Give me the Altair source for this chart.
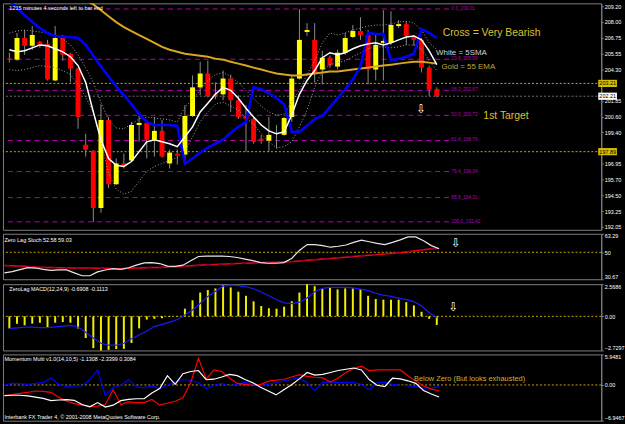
import json
import pandas as pd
import altair as alt

# ---------------- data ----------------
candle_index = list(range(57))
opens = [205.14, 205.06, 206.75, 206.14, 206.45, 206.29, 203.44, 206.91, 205.52, 204.37,
         198.43, 197.97, 193.50, 200.36, 195.35, 196.97, 197.20, 199.97, 200.13, 198.82,
         199.51, 196.97, 197.74, 197.66, 200.67, 202.90, 203.98, 202.36, 202.36, 203.59,
         201.90, 200.67, 200.44, 198.90, 198.74, 199.28, 199.20, 200.59, 203.59, 207.22,
         206.60, 204.29, 205.21, 204.52, 205.60, 206.83, 207.29, 206.98, 204.29, 206.37,
         206.37, 207.68, 207.83, 206.91, 206.60, 204.44, 202.75]
highs = [205.60, 207.14, 207.37, 207.68, 206.52, 206.60, 207.68, 206.98, 205.60, 204.44,
         199.28, 198.00, 201.59, 200.59, 197.36, 197.74, 200.21, 200.74, 200.36, 200.59,
         200.36, 198.05, 198.05, 201.51, 203.83, 204.90, 204.98, 203.29, 204.21, 203.90,
         202.29, 201.51, 200.59, 199.20, 200.59, 199.97, 200.59, 203.90, 209.01, 207.91,
         207.91, 205.75, 205.37, 205.83, 207.14, 207.76, 208.37, 207.37, 206.98, 208.91,
         208.83, 208.14, 208.06, 206.98, 206.75, 204.60, 202.90]
lows = [204.83, 204.98, 205.44, 205.83, 205.98, 203.44, 203.38, 204.98, 203.29, 199.67,
        197.51, 192.42, 193.12, 195.04, 195.30, 196.58, 197.12, 198.66, 197.36, 197.51,
        197.43, 196.58, 196.89, 197.20, 200.59, 202.29, 202.13, 201.98, 201.90, 200.98,
        200.44, 197.89, 198.51, 198.51, 197.89, 198.13, 199.15, 200.21, 203.52, 206.91,
        203.29, 203.13, 204.44, 204.29, 205.44, 206.75, 206.60, 203.13, 203.44, 203.44,
        206.21, 207.52, 206.21, 206.14, 204.06, 202.21, 202.13]
closes = [205.06, 206.75, 206.14, 206.98, 206.21, 203.52, 206.75, 205.44, 204.37, 200.59,
          198.05, 193.50, 200.36, 195.35, 196.97, 196.74, 199.97, 200.13, 198.82, 199.51,
          197.51, 197.82, 197.59, 200.67, 202.90, 203.98, 202.21, 202.21, 203.59, 201.90,
          200.59, 200.44, 198.66, 198.74, 199.20, 199.32, 200.51, 203.59, 206.60, 207.37,
          204.06, 205.21, 204.60, 205.60, 206.75, 207.29, 206.98, 204.29, 206.21, 206.52,
          207.76, 207.83, 206.91, 206.60, 204.44, 202.75, 202.21]
blue_ma = [209.68, 209.06, 208.53, 207.99, 207.52, 207.14, 206.91, 206.83, 206.83, 206.75,
           206.21, 205.37, 204.52, 203.75, 202.98, 202.29, 201.59, 200.82, 200.21, 199.97,
           199.97, 199.97, 199.90, 196.97, 197.36, 197.82, 198.20, 198.51, 198.82, 199.36,
           199.82, 200.21, 202.90, 202.75, 202.44, 202.05, 201.59, 199.43, 199.43, 199.90,
           200.44, 200.67, 201.36, 202.05, 202.75, 203.52, 204.52, 207.14, 207.06, 207.06,
           204.98, 205.14, 205.29, 205.52, 207.45, 207.14, 206.75]
gold_ema = [None] * 10 + [
           209.68, 209.37, 208.91, 208.45, 207.99, 207.60, 207.29, 206.98, 206.68, 206.37,
           206.06, 205.83, 205.68, 205.52, 205.44, 205.37, 205.29, 205.14, 205.06, 204.90,
           204.75, 204.60, 204.44, 204.29, 204.13, 203.98, 203.90, 203.83, 203.83, 203.90,
           203.98, 204.06, 204.13, 204.13, 204.21, 204.29, 204.37, 204.44, 204.52, 204.60,
           204.67, 204.75, 204.83, 204.90, 204.90, 204.83, 204.75]
white_sma = [205.83, 205.67, 205.75, 205.98, 206.21, 206.14, 205.91, 205.67, 205.29, 204.60,
             203.29, 200.98, 198.82, 197.36, 196.82, 196.74, 197.12, 197.89, 198.66, 198.82,
             198.66, 198.51, 198.28, 199.05, 199.82, 200.98, 201.67, 202.36, 202.90, 202.67,
             202.05, 201.28, 200.59, 199.97, 199.51, 199.28, 199.43, 200.74, 202.36, 203.44,
             204.21, 205.21, 205.60, 205.44, 205.60, 205.91, 206.14, 206.29, 206.37, 206.21,
             206.37, 206.60, 206.83, 206.91, 206.60, 205.75, 204.67]
env_upper = [207.14, 207.29, 207.37, 207.29, 207.22, 207.14, 206.98, 206.68, 206.21, 205.44,
             204.44, 203.29, 201.75, 200.36, 199.74, 199.67, 200.05, 200.44, 200.59, 200.51,
             200.44, 200.36, 200.21, 201.36, 201.98, 202.67, 203.44, 203.90, 204.06, 203.75,
             203.29, 202.67, 202.05, 201.44, 200.98, 200.74, 200.82, 201.75, 202.67, 203.90,
             204.98, 206.37, 207.14, 206.98, 207.14, 207.37, 207.52, 207.68, 207.76, 207.76,
             207.83, 207.99, 208.06, 207.91, 207.37, 206.37, 205.83]
env_lower = [204.29, 204.21, 204.29, 204.44, 204.60, 204.52, 204.44, 204.21, 203.90, 203.13,
             202.13, 200.98, 198.66, 196.20, 194.97, 194.58, 194.81, 195.58, 196.35, 196.74,
             196.97, 197.20, 197.43, 197.89, 199.05, 200.21, 200.98, 201.59, 201.75, 201.44,
             201.13, 200.51, 200.05, 199.28, 198.66, 198.20, 198.28, 198.66, 199.82, 201.13,
             202.90, 204.21, 204.67, 204.83, 204.98, 205.29, 205.60, 205.91, 206.06, 206.06,
             205.98, 206.06, 206.21, 206.21, 205.91, 204.98, 204.21]
stoch_main = [35.27, 36.19, 37.56, 38.94, 38.71, 37.79, 37.10, 37.33, 37.33, 35.27,
              33.20, 33.20, 35.96, 37.33, 38.25, 37.79, 38.94, 40.78, 42.39, 42.62,
              41.93, 40.09, 39.86, 40.78, 43.99, 46.98, 47.21, 47.21, 47.21, 46.98,
              46.29, 45.14, 43.99, 42.62, 42.16, 42.16, 42.62, 45.60, 51.35, 55.48,
              55.48, 54.79, 53.64, 54.33, 55.25, 57.09, 58.70, 57.55, 56.40, 55.48,
              57.09, 58.93, 60.99, 60.99, 58.24, 54.79, 52.58]
stoch_signal = [40.55, 40.32, 40.09, 39.86, 39.40, 39.17, 39.17, 38.94, 38.94, 38.71,
                38.71, 38.71, 38.48, 38.48, 38.25, 38.25, 38.48, 38.71, 38.94, 39.17,
                39.17, 39.40, 39.63, 39.86, 40.32, 40.78, 41.01, 41.24, 41.47, 41.70,
                41.93, 42.16, 42.39, 42.62, 42.62, 42.85, 43.08, 43.31, 43.77, 44.23,
                44.69, 45.14, 45.60, 46.06, 46.52, 46.98, 47.44, 47.90, 48.36, 48.82,
                49.28, 49.74, 50.43, 51.12, 51.81, 52.50, 52.95]
macd_hist = [-0.97, -0.59, -0.72, -0.59, -0.51, -0.90, -0.51, -0.46, -0.51, -0.97,
             -1.74, -2.55, -2.7297, -2.68, -2.62, -2.60, -2.13, -0.97, -0.26, -0.20,
             -0.15, -0.05, -0.03, 0.61, 1.28, 1.90, 2.10, 2.23, 2.49, 2.31,
             1.97, 1.64, 1.20, 0.82, 0.64, 0.61, 0.77, 1.20, 1.90, 2.5686,
             2.41, 2.23, 2.31, 2.15, 2.23, 2.23, 2.18, 1.64, 1.38, 1.33,
             1.33, 1.33, 1.13, 0.87, 0.36, -0.20, -0.6908]
macd_signal = [-0.97, -0.92, -0.87, -0.87, -0.90, -0.90, -0.85, -0.79, -0.72, -0.85,
               -1.28, -1.74, -2.15, -2.31, -2.31, -2.15, -1.79, -1.49, -1.18, -0.82,
               -0.64, -0.46, -0.26, 0.10, 0.51, 1.02, 1.59, 2.00, 2.41, 2.49,
               2.46, 2.36, 2.20, 1.95, 1.64, 1.33, 1.08, 1.02, 1.13, 1.46,
               1.97, 2.23, 2.31, 2.31, 2.31, 2.28, 2.18, 2.05, 1.84, 1.69,
               1.59, 1.46, 1.33, 1.18, 0.82, 0.31, -0.1113]
mom_blue = [0.00, 0.31, 0.25, 0.12, 0.31, 0.44, 1.37, 0.12, -0.31, -0.19,
            -0.19, 1.06, 2.93, -2.06, -0.50, -0.06, 1.06, -0.37, -0.50, -0.19,
            -0.69, -0.06, 0.56, 1.06, 0.87, 0.44, -0.69, -0.06, 0.31, -0.19,
            0.12, 0.56, 0.12, -0.19, 0.12, 0.44, 0.81, 1.06, 1.37, 0.44,
            -1.12, 0.56, 0.44, 0.44, 0.44, 0.44, 0.12, -0.94, 0.44, 0.56,
            0.12, -0.06, -0.19, -0.31, -0.62, -0.56, -0.3084]
mom_red = [-2.06, -1.87, -1.62, -1.43, -1.18, -1.25, -1.43, -2.37, -3.18, -3.62,
           -3.93, -4.18, -4.11, -3.80, -0.94, -3.80, -3.30, -3.43, -3.43, -2.81,
           -3.93, -3.55, -3.18, -2.49, 0.44, 5.20, 1.18, 2.93, 2.62, 1.37,
           0.31, 0.12, -0.06, 0.12, 0.75, 0.94, 1.06, 1.56, 2.00, 1.68,
           1.50, 1.37, 0.56, 1.37, 2.43, 3.24, 3.68, 2.81, 2.93, 2.93,
           2.93, 2.93, 1.81, 0.75, -0.19, -0.81, -1.1308]
mom_white = [-2.06, -2.00, -2.00, -2.12, -2.37, -2.62, -3.06, -2.93, -2.87, -2.99,
             -3.80, -4.24, -3.43, -4.30, -3.93, -3.06, -2.81, -2.68, -2.68, -1.56,
             -0.69, 1.81, 0.12, 2.18, 2.62, 2.81, 1.06, 1.12, 1.56, 2.06,
             1.81, 1.06, 0.44, -0.44, -1.18, -1.93, -0.94, 0.06, 1.18, 2.43,
             1.93, 2.06, 2.43, 2.81, 3.06, 3.30, 2.93, 1.06, -0.06, -0.31,
             1.31, 1.18, 0.81, 0.31, -1.06, -1.75, -2.3399]

fib_names = ["0.0", "23.6", "38.2", "50.0", "61.8", "76.4", "88.6", "100.0"]
fib_prices = [209.01, 205.09, 202.67, 200.72, 198.76, 196.34, 194.31, 192.42]
level_prices = [203.21, 197.89]
bid_price = [202.21]
price_ticks = [209.20, 208.00, 206.75, 205.55, 204.30, 201.85, 200.60,
               199.40, 196.95, 195.70, 194.50, 193.25, 192.05]
stoch_ticks = [63.29, 50, 30.67]
macd_ticks = [2.5686, 0, -2.7297]
mom_ticks = [5.9481, 0, -6.9467]
date_ticks = list(range(0, 57, 4))
date_labels = ["4 Mar 2008", "9 Mar 2008", "13 Mar 2008", "18 Mar 2008", "24 Mar 2008",
               "28 Mar 2008", "2 Apr 2008", "7 Apr 2008", "11 Apr 2008", "16 Apr 2008",
               "21 Apr 2008", "25 Apr 2008", "30 Apr 2008", "5 May 2008", "9 May 2008"]

# ---------------- styling ----------------
BG = "#000000"
GREY = "#808080"
MAG = "#B400B4"
DOTGOLD = "#C8A800"
NOTEGOLD = "#DCC032"
FONT = "Liberation Sans"
W = 605

xs = alt.Scale(domain=[-0.19, 76.9], nice=False, zero=False)


def X(field, axis=None):
    return alt.X(field, type="quantitative", scale=xs, axis=axis, title=None)


def make_axis(values, fmt=None, expr=None, flush=False):
    kw = dict(orient="right", values=values, title=None, grid=False,
              labelFontSize=5.5, labelColor="#FFFFFF", labelFont=FONT,
              tickColor=GREY, tickSize=2, domainColor=GREY, labelPadding=1,
              labelOverlap=False, labelFlush=flush)
    if fmt:
        kw["format"] = fmt
    if expr:
        kw["labelExpr"] = expr
    return alt.Axis(**kw)


def y_factory(domain, axis):
    sc = alt.Scale(domain=domain, nice=False, zero=False)

    def Y(field):
        return alt.Y(field, type="quantitative", scale=sc, axis=axis, title=None)
    return Y


def note(text, kx, yv, Y, color, size, align="left", font=FONT):
    d = pd.DataFrame({"kx": [kx], "yv": [yv], "t": [text]})
    return alt.Chart(d).mark_text(align=align, baseline="middle", color=color,
                                  fontSize=size, font=font).encode(
        x=X("kx"), y=Y("yv"), text="t:N")


# ---------------- main price panel ----------------
Ym = y_factory([191.80, 209.45], make_axis(price_ticks, fmt=".2f"))

df = pd.DataFrame({"k": candle_index, "open": opens, "high": highs, "low": lows,
                   "close": closes, "blue": blue_ma, "gold": gold_ema,
                   "white": white_sma, "upper": env_upper, "lower": env_lower})
df["dir"] = ["up" if c >= o else "down" for o, c in zip(opens, closes)]

fib_df = pd.DataFrame({"price": fib_prices,
                       "label": [f"{n}_{p:.2f}" for n, p in zip(fib_names, fib_prices)]})
fib_df["start"] = -0.19
fib_df["end"] = 57.8
fib_df["lx"] = 57.9

fib_rule = alt.Chart(fib_df).mark_rule(color=MAG, strokeDash=[5, 4], strokeWidth=1).encode(
    x=X("start"), x2="end", y=Ym("price"))
fib_text = alt.Chart(fib_df).mark_text(align="left", baseline="middle", fontSize=4.8,
                                       color=MAG, font=FONT).encode(
    x=X("lx"), y=Ym("price"), text="label:N")
level_rule = alt.Chart(pd.DataFrame({"price": level_prices})).mark_rule(
    color=DOTGOLD, strokeDash=[2, 2], strokeWidth=1).encode(y=Ym("price"))
bid_rule = alt.Chart(pd.DataFrame({"price": bid_price})).mark_rule(
    color="#6E6E6E", strokeDash=[2, 2], strokeWidth=1).encode(y=Ym("price"))

wicks = alt.Chart(df).mark_rule(color="#8C8C8C", strokeWidth=1).encode(
    x=X("k"), y=Ym("low"), y2="high")
bodies = alt.Chart(df).mark_bar(size=5).encode(
    x=X("k"), y=Ym("open"), y2="close",
    color=alt.Color("dir:N", scale=alt.Scale(domain=["up", "down"], range=["#FFFF00", "#FF0000"]),
                    legend=None))

upper_line = alt.Chart(df).mark_line(color="#A0A0A0", strokeDash=[1, 2], strokeWidth=1, clip=True).encode(
    x=X("k"), y=Ym("upper"))
lower_line = alt.Chart(df).mark_line(color="#A0A0A0", strokeDash=[1, 2], strokeWidth=1, clip=True).encode(
    x=X("k"), y=Ym("lower"))
gold_line = alt.Chart(df).mark_line(color="#DAA520", strokeWidth=2, clip=True).encode(
    x=X("k"), y=Ym("gold"))
blue_line = alt.Chart(df).mark_line(color="#0000FF", strokeWidth=2.6, clip=True).encode(
    x=X("k"), y=Ym("blue"))
white_line = alt.Chart(df).mark_line(color="#FFFFFF", strokeWidth=1.5, clip=True).encode(
    x=X("k"), y=Ym("white"))

box_df = pd.DataFrame({"price": level_prices, "label": [f"{p:.2f}" for p in level_prices]})
box_df["top"] = box_df["price"] + 0.28
box_df["bot"] = box_df["price"] - 0.28
box_df["x0"] = 77.15
box_df["x1"] = 79.6
box_df["tx"] = 77.3
bid_df = pd.DataFrame({"price": bid_price, "label": [f"{p:.2f}" for p in bid_price]})
bid_df["top"] = bid_df["price"] + 0.28
bid_df["bot"] = bid_df["price"] - 0.28
bid_df["x0"] = 77.15
bid_df["x1"] = 79.6
bid_df["tx"] = 77.3

gold_boxes = alt.Chart(box_df).mark_rect(color="#D4C000").encode(
    x=X("x0"), x2="x1", y=Ym("top"), y2="bot")
gold_box_text = alt.Chart(box_df).mark_text(align="left", baseline="middle", fontSize=5.5,
                                            color="#000000", font=FONT).encode(
    x=X("tx"), y=Ym("price"), text="label:N")
bid_box = alt.Chart(bid_df).mark_rect(color="#FFFFFF").encode(
    x=X("x0"), x2="x1", y=Ym("top"), y2="bot")
bid_box_text = alt.Chart(bid_df).mark_text(align="left", baseline="middle", fontSize=5.5,
                                           color="#000000", font=FONT).encode(
    x=X("tx"), y=Ym("price"), text="label:N")

main = alt.layer(
    fib_rule, level_rule, bid_rule, wicks, bodies, upper_line, lower_line,
    gold_line, blue_line, white_line, fib_text,
    note("1215 minutes 4 seconds left to bar end", 0.0, 209.12, Ym, "#FFFFFF", 5.5),
    note("Cross = Very Bearish", 56.77, 207.14, Ym, NOTEGOLD, 10.5),
    note("White = 5SMA", 55.9, 205.60, Ym, "#D2D2D2", 8),
    note("Gold = 55 EMA", 56.6, 204.52, Ym, "#C2A23E", 8),
    note("1st Target", 62.1, 200.67, Ym, NOTEGOLD, 10.5),
    note("\u21e9", 53.97, 201.21, Ym, "#FFFFFF", 12, align="center", font="DejaVu Sans"),
    gold_boxes, gold_box_text, bid_box, bid_box_text,
).properties(width=W, height=229)

# ---------------- stochastic panel ----------------
Ys = y_factory([30.67, 63.29], make_axis(
    stoch_ticks, expr="datum.value == 50 ? '50' : format(datum.value, '.2f')", flush=True))
sdf = pd.DataFrame({"k": candle_index, "main": stoch_main, "sig": stoch_signal})
stoch = alt.layer(
    alt.Chart(pd.DataFrame({"lv": [50]})).mark_rule(color=DOTGOLD, strokeDash=[2, 2]).encode(y=Ys("lv")),
    alt.Chart(sdf).mark_line(color="#FF0000", strokeWidth=1.5).encode(x=X("k"), y=Ys("sig")),
    alt.Chart(sdf).mark_line(color="#800050", strokeWidth=1.5, strokeDash=[5, 7]).encode(x=X("k"), y=Ys("sig")),
    alt.Chart(sdf).mark_line(color="#E8E8E8", strokeWidth=1.2).encode(x=X("k"), y=Ys("main")),
    note("Zero Lag Stoch 52.58 59.03", 0.0, 59.0, Ys, "#FFFFFF", 5.5),
    note("\u21e9", 58.17, 56.9, Ys, "#FFFFFF", 12, align="center", font="DejaVu Sans"),
).properties(width=W, height=46)

# ---------------- MACD panel ----------------
Yd = y_factory([-2.7297, 2.5686], make_axis(
    macd_ticks, expr="datum.value == 0 ? '0.00' : format(datum.value, '.4f')", flush=True))
mdf = pd.DataFrame({"k": candle_index, "hist": macd_hist, "sig": macd_signal})
macd = alt.layer(
    alt.Chart(pd.DataFrame({"lv": [0]})).mark_rule(color=DOTGOLD, strokeDash=[2, 2]).encode(y=Yd("lv")),
    alt.Chart(mdf).mark_bar(size=2, color="#F0F000").encode(x=X("k"), y=Yd("hist"), y2=alt.datum(0)),
    alt.Chart(mdf).mark_line(color="#1A1AFF", strokeWidth=1.2).encode(x=X("k"), y=Yd("sig")),
    note("ZeroLag MACD(12,24,9) -0.6908 -0.1113", 0.0, 2.17, Yd, "#FFFFFF", 5.5),
    note("\u21e9", 58.17, 0.75, Yd, "#FFFFFF", 12, align="center", font="DejaVu Sans"),
).properties(width=W, height=67)

# ---------------- momentum panel ----------------
Yo = y_factory([-6.9467, 5.9481], make_axis(
    mom_ticks, expr="datum.value == 0 ? '0.00' : format(datum.value, '.4f')", flush=True))
odf = pd.DataFrame({"k": candle_index, "b": mom_blue, "r": mom_red, "w": mom_white})
x_axis = alt.Axis(values=date_ticks, labelExpr=json.dumps(date_labels) + "[datum.value / 4]",
                  labelAlign="left", labelFontSize=5.5, labelColor="#FFFFFF", labelFont=FONT,
                  tickColor=GREY, domainColor=GREY, tickSize=3, labelPadding=1, grid=False,
                  labelFlush=False, labelOverlap=False, title=None)
mom = alt.layer(
    alt.Chart(pd.DataFrame({"lv": [0]})).mark_rule(color=DOTGOLD, strokeDash=[2, 2]).encode(y=Yo("lv")),
    alt.Chart(odf).mark_line(color="#0000FF", strokeWidth=1.2).encode(x=X("k", x_axis), y=Yo("b")),
    alt.Chart(odf).mark_line(color="#FF0000", strokeWidth=1.2).encode(x=X("k", x_axis), y=Yo("r")),
    alt.Chart(odf).mark_line(color="#FFFFFF", strokeWidth=1.2).encode(x=X("k", x_axis), y=Yo("w")),
    note("Momentum Multi v1.0(14,10,5) -1.1308 -2.3399 0.3084", 0.0, 4.99, Yo, "#FFFFFF", 5.5),
    note("Below Zero (But looks exhausted)", 52.77, 1.23, Yo, "#C8B43C", 7.5),
    note("Interbank FX Trader 4, \u00a9 2001-2008 MetaQuotes Software Corp.", 0.0, -6.18, Yo, "#FFFFFF", 5.5),
).properties(width=W, height=67)

chart = alt.vconcat(main, stoch, macd, mom, spacing=2).properties(
    padding=0, background=BG
).configure_view(stroke=GREY, strokeWidth=1)

chart.save("out.html", embed_options={"renderer": "svg", "actions": False})
